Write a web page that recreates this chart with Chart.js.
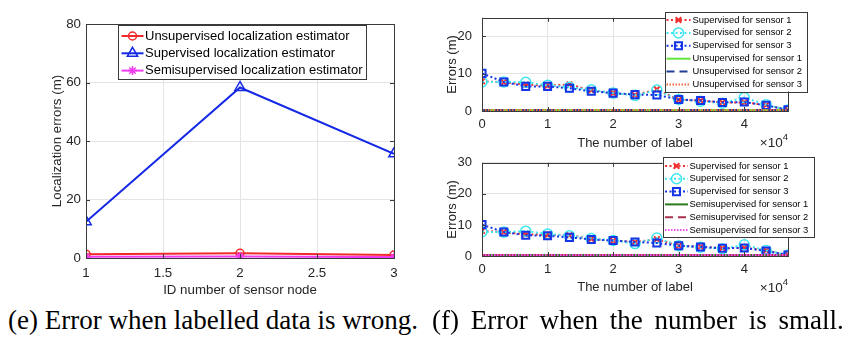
<!DOCTYPE html>
<html>
<head>
<meta charset="utf-8">
<script src="https://cdn.jsdelivr.net/npm/chart.js@4/dist/chart.umd.min.js"></script>
<style>
  body { margin: 0; background: #fff; width: 860px; height: 344px; overflow: hidden; position: relative; }
  canvas { position: absolute; }
  .cap { position: absolute; top: 305px; line-height: 30px; font-family: 'Liberation Serif', 'Times New Roman', serif; font-size: 27px; color: #000; white-space: nowrap; }
</style>
</head>
<body>
<canvas id="graficoNodos" width="420" height="300" style="left:0;top:0"></canvas>
<canvas id="graficoNaoSup" width="440" height="155" style="left:420px;top:0"></canvas>
<canvas id="graficoSemi" width="440" height="160" style="left:420px;top:145px"></canvas>
<div class="cap" style="left:8px">(e) Error when labelled data is wrong.</div>
<div class="cap" style="left:432px;word-spacing:5px">(f) Error when the number is small.</div>
<script>
// (e) erro por nó sensor
const sensorNodes = [1, 2, 3];
const unsupervisedErr = [1.3, 1.6, 1.0];
const supervisedErr = [12.4, 58.3, 35.6];
const semisupervisedErr = [0.4, 0.5, 0.3];

// (f) erro x número de rótulos
const labelCounts = [0, 3333, 6667, 10000, 13333, 16667, 20000, 23333, 26667, 30000, 33333, 36667, 40000, 43333, 46667];
const labelTicks = [0, 10000, 20000, 30000, 40000];

const supS1Top = [8.0, 7.7, 7.1, 6.8, 7.1, 5.6, 4.8, 4.3, 5.8, 3.0, 2.8, 2.3, 2.3, 1.6, 0.3];
const supS2Top = [7.8, 7.8, 7.7, 6.9, 6.4, 5.7, 4.8, 4.2, 5.6, 3.1, 2.6, 2.1, 3.6, 1.7, 0.3];
const supS3Top = [10.1, 7.8, 6.6, 6.6, 6.1, 5.3, 4.8, 4.4, 4.3, 3.1, 2.8, 2.3, 2.4, 1.5, 0.3];
const unsupS1 = [0.3, 0.3, 0.3, 0.3, 0.3, 0.3, 0.3, 0.3, 0.3, 0.3, 0.3, 0.3, 0.3, 0.3, 0.3];
const unsupS2 = [0.3, 0.3, 0.3, 0.3, 0.3, 0.3, 0.3, 0.3, 0.3, 0.3, 0.3, 0.3, 0.3, 0.3, 0.3];
const unsupS3 = [0.3, 0.3, 0.3, 0.3, 0.3, 0.3, 0.3, 0.3, 0.3, 0.3, 0.3, 0.3, 0.3, 0.3, 0.3];

const supS1Bot = [8.1, 7.7, 7.0, 6.8, 6.7, 5.5, 4.9, 4.5, 5.4, 3.3, 3.0, 2.5, 2.6, 1.8, 0.3];
const supS2Bot = [7.8, 7.7, 8.0, 7.1, 6.5, 5.6, 5.0, 4.0, 5.8, 3.3, 2.8, 2.3, 3.6, 1.8, 0.3];
const supS3Bot = [10.1, 7.7, 6.7, 6.5, 6.0, 5.3, 5.0, 4.5, 4.2, 3.3, 2.9, 2.5, 2.6, 1.6, 0.3];
const semiS1 = [0.3, 0.3, 0.3, 0.3, 0.3, 0.3, 0.3, 0.3, 0.3, 0.3, 0.3, 0.3, 0.3, 0.3, 0.3];
const semiS2 = [0.3, 0.3, 0.3, 0.3, 0.3, 0.3, 0.3, 0.3, 0.3, 0.3, 0.3, 0.3, 0.3, 0.3, 0.3];
const semiS3 = [0.3, 0.3, 0.3, 0.3, 0.3, 0.3, 0.3, 0.3, 0.3, 0.3, 0.3, 0.3, 0.3, 0.3, 0.3];

Chart.defaults.font.family = "'Liberation Sans', Arial, Helvetica, sans-serif";
Chart.defaults.color = '#262626';
Chart.defaults.animation = false;

const FRAME = '#3a3a3a';

// moldura estilo MATLAB com ticks para dentro
const moldura = {
    id: 'moldura',
    afterDatasetsDraw(chart) {
        const { ctx, chartArea: a, scales } = chart;
        ctx.save();
        ctx.strokeStyle = FRAME;
        ctx.lineWidth = 1;
        ctx.beginPath();
        scales.x.ticks.forEach(t => {
            const px = Math.round(scales.x.getPixelForValue(t.value)) + 0.5;
            ctx.moveTo(px, a.bottom); ctx.lineTo(px, a.bottom - 4);
            ctx.moveTo(px, a.top); ctx.lineTo(px, a.top + 4);
        });
        scales.y.ticks.forEach(t => {
            const py = Math.round(scales.y.getPixelForValue(t.value)) + 0.5;
            ctx.moveTo(a.left, py); ctx.lineTo(a.left + 4, py);
            ctx.moveTo(a.right, py); ctx.lineTo(a.right - 4, py);
        });
        ctx.stroke();
        ctx.strokeRect(Math.round(a.left) + 0.5, Math.round(a.top) + 0.5, Math.round(a.right - a.left), Math.round(a.bottom - a.top));
        ctx.restore();
    }
};

// legenda dentro de uma caixa, com amostra de linha + marcador
const legendaCaixa = {
    id: 'legendaCaixa',
    afterDraw(chart, args, o) {
        if (!o || !o.width) return;
        const ctx = chart.ctx;
        ctx.save();
        ctx.fillStyle = '#fff';
        ctx.fillRect(o.left, o.top, o.width, o.height);
        ctx.strokeStyle = FRAME;
        ctx.lineWidth = 1;
        ctx.strokeRect(Math.round(o.left) + 0.5, Math.round(o.top) + 0.5, Math.round(o.width), Math.round(o.height));
        chart.data.datasets.forEach((ds, i) => {
            const y = o.rowTop + i * o.rowGap;
            ctx.save();
            ctx.strokeStyle = ds.borderColor;
            ctx.lineWidth = ds.borderWidth;
            ctx.setLineDash(ds.borderDash || []);
            ctx.beginPath();
            ctx.moveTo(o.sampleLeft, y);
            ctx.lineTo(o.sampleLeft + o.sampleLen, y);
            ctx.stroke();
            ctx.restore();
            if (ds.pointRadius > 0) {
                ctx.save();
                ctx.strokeStyle = ds.pointBorderColor || ds.borderColor;
                ctx.fillStyle = 'rgba(0,0,0,0)';
                ctx.lineWidth = ds.pointBorderWidth;
                Chart.helpers.drawPoint(ctx, { pointStyle: ds.pointStyle, radius: ds.pointRadius, rotation: 0, borderWidth: ds.pointBorderWidth }, o.sampleLeft + o.sampleLen / 2, y);
                ctx.restore();
            }
            ctx.fillStyle = '#000';
            ctx.font = o.fontSize + "px 'Liberation Sans', Arial, sans-serif";
            ctx.textBaseline = 'middle';
            ctx.textAlign = 'left';
            ctx.fillText(ds.label, o.textLeft, y);
        });
        ctx.restore();
    }
};

// fator ×10^4 no canto do eixo x
const fatorEscala = {
    id: 'fatorEscala',
    afterDraw(chart, args, o) {
        if (!o || !o.show) return;
        const { ctx, chartArea: a } = chart;
        ctx.save();
        ctx.fillStyle = '#262626';
        ctx.textBaseline = 'alphabetic';
        ctx.textAlign = 'right';
        ctx.font = "9.5px 'Liberation Sans', Arial, sans-serif";
        ctx.fillText('4', a.right, a.bottom + o.dy - 7);
        const w4 = ctx.measureText('4').width;
        ctx.font = "13.5px 'Liberation Sans', Arial, sans-serif";
        ctx.fillText('\u00d710', a.right - w4, a.bottom + o.dy);
        ctx.restore();
    }
};

function eixos(cfg) {
    return {
        x: {
            type: 'linear', min: cfg.xmin, max: cfg.xmax,
            afterFit: s => { s.height = cfg.xHeight; },
            afterBuildTicks: cfg.xTicks ? (s => { s.ticks = cfg.xTicks.map(v => ({ value: v })); }) : undefined,
            grid: { color: '#e4e4e4', drawTicks: false },
            border: { display: false },
            ticks: { stepSize: cfg.xstep, includeBounds: false, padding: cfg.xPad, font: { size: cfg.tickSize }, color: '#262626', maxRotation: 0, autoSkip: false, callback: cfg.xFmt },
            title: { display: true, text: cfg.xTitle, font: { size: cfg.titleSize }, color: '#262626', padding: { top: 0, bottom: cfg.xTitlePad } }
        },
        y: {
            type: 'linear', min: cfg.ymin, max: cfg.ymax,
            afterFit: s => { s.width = cfg.yWidth; },
            grid: { color: '#e4e4e4', drawTicks: false },
            border: { display: false },
            ticks: { stepSize: cfg.ystep, includeBounds: false, padding: cfg.yPad, font: { size: cfg.tickSize }, color: '#262626' },
            title: { display: true, text: cfg.yTitle, font: { size: cfg.titleSize }, color: '#262626', padding: { top: cfg.yTitlePad, bottom: 0 } }
        }
    };
}

const pontos = arr => labelCounts.map((x, i) => ({ x, y: arr[i] }));
const pontosNo = arr => sensorNodes.map((x, i) => ({ x, y: arr[i] }));

// (e)
new Chart(document.getElementById('graficoNodos').getContext('2d'), {
    type: 'line',
    data: {
        datasets: [
            { label: 'Unsupervised localization estimator', data: pontosNo(unsupervisedErr), borderColor: '#f02a2a', borderWidth: 2, pointStyle: 'circle', pointRadius: 4, pointBorderWidth: 1.5, pointBackgroundColor: 'rgba(0,0,0,0)', order: 2 },
            { label: 'Supervised localization estimator', data: pontosNo(supervisedErr), borderColor: '#1428e6', borderWidth: 2, pointStyle: 'triangle', pointRadius: 6, pointBorderWidth: 1.5, pointBackgroundColor: 'rgba(0,0,0,0)', order: 1 },
            { label: 'Semisupervised localization estimator', data: pontosNo(semisupervisedErr), borderColor: '#f03cf0', borderWidth: 2, pointStyle: 'star', pointRadius: 4.5, pointBorderWidth: 1.5, pointBackgroundColor: 'rgba(0,0,0,0)', order: 0 }
        ]
    },
    options: {
        responsive: false,
        layout: { padding: { left: 0, top: 24, right: 26, bottom: 0 } },
        plugins: {
            legend: { display: false }, tooltip: { enabled: false },
            legendaCaixa: { left: 118, top: 25, width: 248, height: 54, rowTop: 36, rowGap: 17.3, sampleLeft: 121.5, sampleLen: 22, textLeft: 145, fontSize: 13 }
        },
        scales: eixos({
            xmin: 1, xmax: 3, xstep: 0.5, ymin: 0, ymax: 80, ystep: 20,
            xHeight: 42, yWidth: 86, xPad: 7, yPad: 5, tickSize: 13.3, titleSize: 13.3,
            xTitle: 'ID number of sensor node', yTitle: 'Localization errors (m)',
            xTitlePad: 2, yTitlePad: 49
        })
    },
    plugins: [moldura, legendaCaixa]
});

const estiloSup = [
    { borderColor: '#f03030', pointStyle: 'crossRot', pointRadius: 4, pointBorderWidth: 2 },
    { borderColor: '#3ee6f0', pointStyle: 'circle', pointRadius: 5, pointBorderWidth: 1.5 },
    { borderColor: '#1436e8', pointStyle: 'rect', pointRadius: 5, pointBorderWidth: 2 }
];

function serieSup(label, arr, i) {
    return Object.assign({ label, data: pontos(arr), borderWidth: 2, borderDash: [2, 2.5], pointBackgroundColor: 'rgba(0,0,0,0)', order: 5 - i }, estiloSup[i]);
}
function serieBase(label, arr, i, color, dash) {
    return { label, data: pontos(arr), borderColor: color, borderWidth: 2, borderDash: dash, pointRadius: 0, order: 5 - i };
}

const eixosF = (ymax, xHeight, xTitlePad) => eixos({
    xmin: 0, xmax: 46667, xTicks: labelTicks, ymin: 0, ymax, ystep: 10,
    xHeight, yWidth: 62, xPad: 6, yPad: 10, tickSize: 13, titleSize: 13,
    xTitle: 'The number of label', yTitle: 'Errors (m)',
    xTitlePad, yTitlePad: 24.5, xFmt: v => v / 10000
});

// (f) topo
new Chart(document.getElementById('graficoNaoSup').getContext('2d'), {
    type: 'line',
    data: {
        datasets: [
            serieSup('Supervised for sensor 1', supS1Top, 0),
            serieSup('Supervised for sensor 2', supS2Top, 1),
            serieSup('Supervised for sensor 3', supS3Top, 2),
            serieBase('Unsupervised for sensor 1', unsupS1, 3, '#66e23c', []),
            serieBase('Unsupervised for sensor 2', unsupS2, 4, '#1f3c96', [8, 5]),
            serieBase('Unsupervised for sensor 3', unsupS3, 5, '#f26a3c', [1.5, 1.5])
        ]
    },
    options: {
        responsive: false,
        layout: { padding: { left: 0, top: 14, right: 72, bottom: 0 } },
        plugins: {
            legend: { display: false }, tooltip: { enabled: false },
            legendaCaixa: { left: 245, top: 11.5, width: 142, height: 80, rowTop: 20, rowGap: 12.9, sampleLeft: 246.5, sampleLen: 24, textLeft: 272.5, fontSize: 9.4 },
            fatorEscala: { show: true, dy: 36 }
        },
        scales: eixosF(25, 44, 3.9)
    },
    plugins: [moldura, legendaCaixa, fatorEscala]
});

// (f) baixo
new Chart(document.getElementById('graficoSemi').getContext('2d'), {
    type: 'line',
    data: {
        datasets: [
            serieSup('Supervised for sensor 1', supS1Bot, 0),
            serieSup('Supervised for sensor 2', supS2Bot, 1),
            serieSup('Supervised for sensor 3', supS3Bot, 2),
            serieBase('Semisupervised for sensor 1', semiS1, 3, '#2b7a1e', []),
            serieBase('Semisupervised for sensor 2', semiS2, 4, '#a8324e', [8, 5]),
            serieBase('Semisupervised for sensor 3', semiS3, 5, '#f050f0', [1.5, 1.5])
        ]
    },
    options: {
        responsive: false,
        layout: { padding: { left: 0, top: 11, right: 72, bottom: 0 } },
        plugins: {
            legend: { display: false }, tooltip: { enabled: false },
            legendaCaixa: { left: 242.7, top: 12.3, width: 151.3, height: 80, rowTop: 21, rowGap: 12.8, sampleLeft: 245, sampleLen: 23, textLeft: 269.5, fontSize: 9.4 },
            fatorEscala: { show: true, dy: 36 }
        },
        scales: eixosF(30, 49, 9.5)
    },
    plugins: [moldura, legendaCaixa, fatorEscala]
});
</script>
</body>
</html>
